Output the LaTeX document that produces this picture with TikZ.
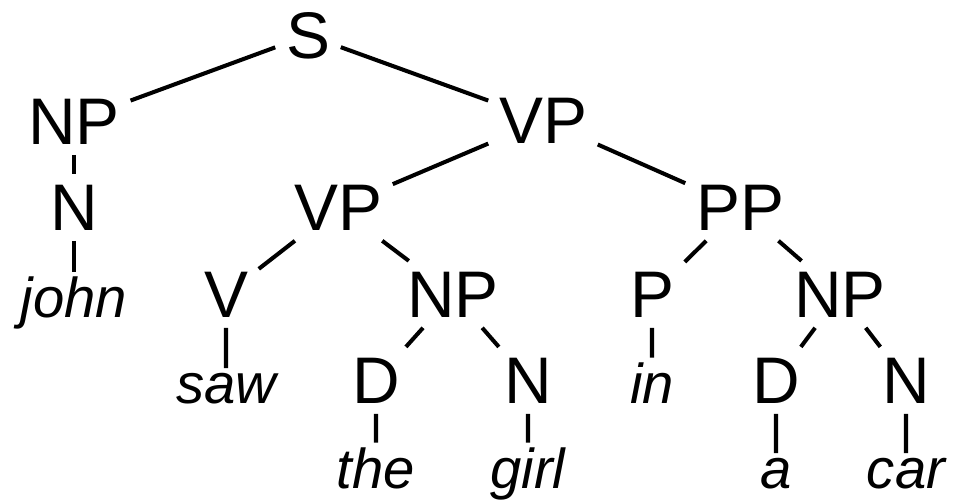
\documentclass[tikz,border=0pt]{standalone}
\usepackage{fontspec}
\setmainfont{Liberation Sans}

\begin{document}
\begin{tikzpicture}[x=0.02cm, y=-0.02cm, line width=2.3pt,
    cat/.style={anchor=base, inner sep=5pt, font=\fontsize{37.5}{40}\selectfont},
    word/.style={anchor=base, inner sep=1.5pt, font=\fontsize{32}{34}\selectfont\itshape}]
  \useasboundingbox (0,0) rectangle (967,501);
  % categories
  \node[cat] (s) at (308,58) {S};
  \node[cat] (np1) at (74,144) {NP};
  \node[cat] (vp1) at (543,143) {VP};
  \node[cat] (n1) at (74,230) {N};
  \node[cat] (vp2) at (338,230) {VP};
  \node[cat] (pp) at (740,230) {PP};
  \node[cat] (v) at (226,317) {V};
  \node[cat] (np2) at (453,317) {NP};
  \node[cat] (p) at (652,317) {P};
  \node[cat] (np3) at (840,317) {NP};
  \node[cat] (d1) at (376,403) {D};
  \node[cat] (n2) at (528,403) {N};
  \node[cat] (d2) at (776,403) {D};
  \node[cat] (n3) at (906,403) {N};
  % words
  \node[word] (john) at (74,317) {john};
  \node[word] (saw) at (226,403) {saw};
  \node[word] (in) at (652,403) {in};
  \node[word] (the) at (376,488) {the};
  \node[word] (girl) at (528,488) {girl};
  \node[word] (a) at (776,488) {a};
  \node[word] (car) at (906,488) {car};
  % branches
  \draw (s) -- (np1) (s) -- (vp1);
  \draw (np1) -- (n1) (n1) -- (john);
  \draw (vp1) -- (vp2) (vp1) -- (pp);
  \draw (vp2) -- (v) (vp2) -- (np2) (v) -- (saw);
  \draw (np2) -- (d1) (np2) -- (n2) (d1) -- (the) (n2) -- (girl);
  \draw (pp) -- (p) (pp) -- (np3) (p) -- (in);
  \draw (np3) -- (d2) (np3) -- (n3) (d2) -- (a) (n3) -- (car);
\end{tikzpicture}
\end{document}
